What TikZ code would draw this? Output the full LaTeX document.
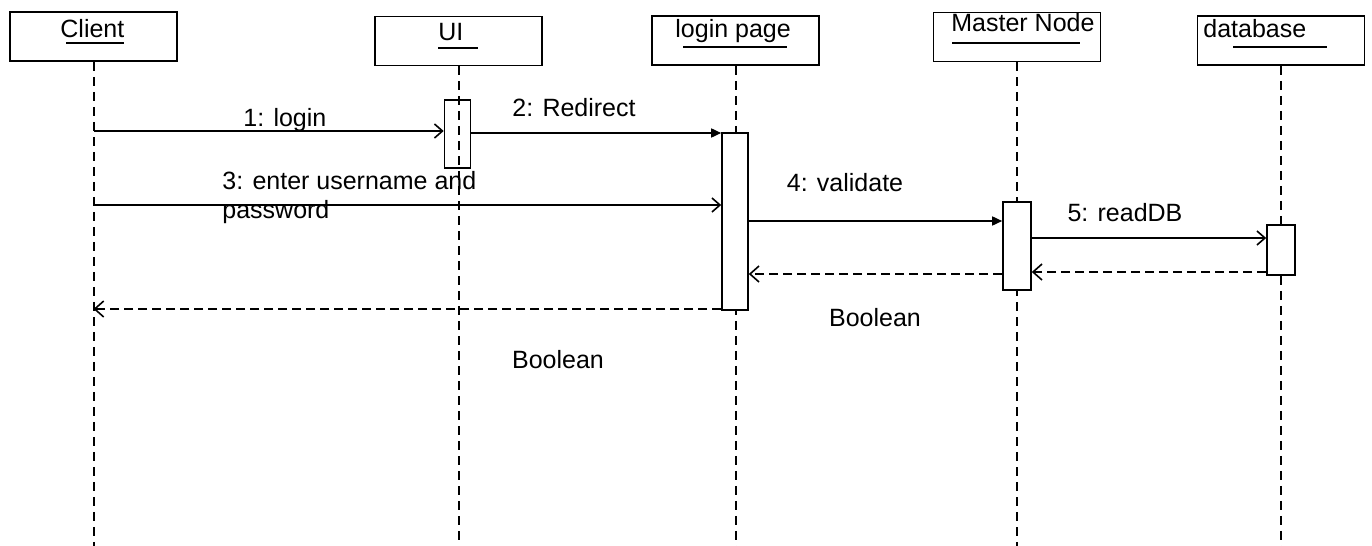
\documentclass[tikz,border=0pt]{standalone}
\usepackage{fontspec}
\setmainfont{Liberation Sans}
\usetikzlibrary{arrows.meta}
\begin{document}
\begin{tikzpicture}[
    x=0.5pt, y=-0.5pt,
    font=\fontsize{12.5}{14.5}\selectfont,
    object/.style={rectangle, draw=black, line width=0.8pt, minimum width=83.5pt, minimum height=24.5pt, inner sep=0pt},
    title/.style={anchor=base west, inner sep=0pt},
    underl/.style={line width=0.7pt},
    activation/.style={rectangle, draw=black, line width=0.8pt, fill=white, minimum width=13pt, inner sep=0pt},
    lifeline/.style={dash pattern=on 4.5pt off 3pt, line width=1pt},
    call/.style={-{Triangle[length=5pt,width=4.5pt]}, line width=0.8pt},
    msg/.style={-{Straight Barb[length=4pt,width=7pt]}, line width=0.8pt},
    reply/.style={-{Straight Barb[length=4.5pt,width=8pt]}, dash pattern=on 4.5pt off 2.5pt, line width=0.8pt}
]
\useasboundingbox (0,0) rectangle (1372,546);
\coordinate (bottom) at (0,546);

\node[object] (client) at (93.5,36.5) {};
\node[object] (ui) at (458.5,41) {};
\node[object] (login) at (735.5,40.5) {};
\node[object] (master) at (1017,37) {};
\node[object] (db) at (1281,40.5) {};

\node[title] (clientname) at (60,38) {Client};
\node[title] (uiname) at (438,40) {UI};
\node[title] (loginname) at (675,38) {login page};
\node[title] (mastername) at (951,32) {Master Node};
\node[title] (dbname) at (1203,37) {database};
\draw[underl] (66,43) -- (124,43);
\draw[underl] (438,48) -- (478,48);
\draw[underl] (683,47) -- (787,47);
\draw[underl] (952,43) -- (1080,43);
\draw[underl] (1233,47) -- (1327,47);

\draw[lifeline] (client.south) -- (client |- bottom);
\draw[lifeline] (ui.south) -- (ui |- bottom);
\draw[lifeline] (login.south) -- (login |- bottom);
\draw[lifeline] (master.south) -- (master |- bottom);
\draw[lifeline] (db.south) -- (db |- bottom);

\node[activation, minimum height=34pt, fill=none] (uiact) at (457.5,134) {};
\node[activation, minimum height=88.5pt] (loginact) at (735,221.5) {};
\node[activation, minimum width=14pt, minimum height=44pt] (masteract) at (1017,246) {};
\node[activation, minimum width=14pt, minimum height=25pt] (dbact) at (1281,250) {};

\coordinate (m1) at (0,131);
\coordinate (m2) at (0,133);
\coordinate (m3) at (0,205);
\coordinate (m4) at (0,221);
\coordinate (m5) at (0,238);
\coordinate (r5) at (0,272);
\coordinate (r4) at (0,274);
\coordinate (r3) at (0,309);

\draw[msg] (client |- m1) -- (uiact.west |- m1);
\draw[call] (uiact.east |- m2) -- (loginact.west |- m2);
\draw[msg] (client |- m3) -- (loginact.west |- m3);
\draw[call] (loginact.east |- m4) -- (masteract.west |- m4);
\draw[msg] (masteract.east |- m5) -- (dbact.west |- m5);
\draw[reply] (dbact.west |- r5) -- (masteract.east |- r5);
\draw[reply] (masteract.west |- r4) -- (loginact.east |- r4);
\draw[reply] (loginact.west |- r3) -- (client |- r3);

\node[title] (login1) at (243,126) {1: login};
\node[title] (redirect2) at (512,116) {2: Redirect};
\node[title, align=left] (enter3) at (222,218) {3: enter username and\\password};
\node (validate4) at (845,183) {4: validate};
\node (readdb5) at (1125,213) {5: readDB};
\node (boolean1) at (875,318) {Boolean};
\node (boolean2) at (558,360) {Boolean};
\end{tikzpicture}
\end{document}
